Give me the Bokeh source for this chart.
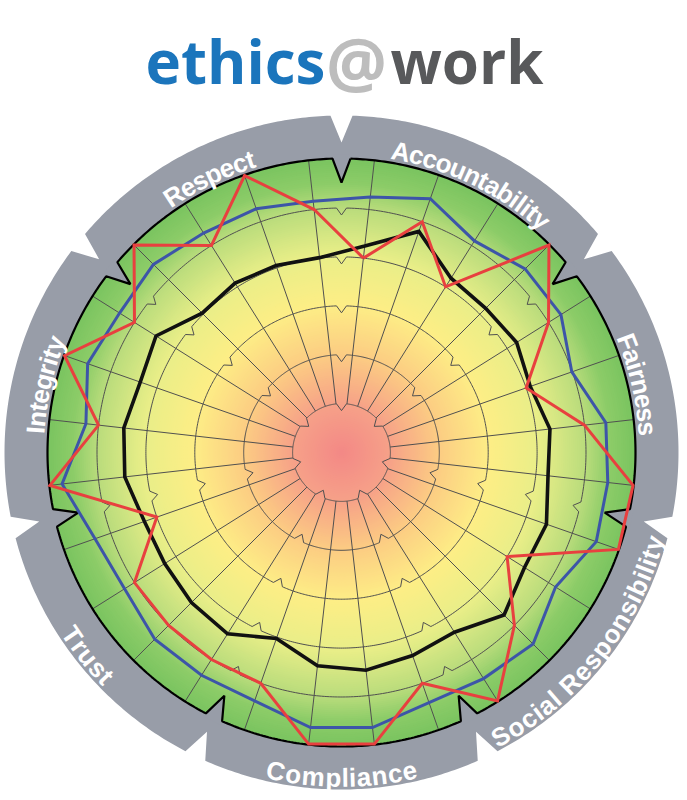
import numpy as np
from bokeh.plotting import figure
from bokeh.models import Range1d
from bokeh.embed import file_html
from bokeh.resources import INLINE
from bokeh.core.properties import value

# ---------------- data ----------------
title_parts = ["ethics", "@", "work"]
categories = ["Accountability", "Fairness", "Social Responsibility",
              "Compliance", "Trust", "Integrity", "Respect"]
# four spokes per category, clockwise from the top (levels 0..6)
red_scores = [4, 5, 4, 6,   5, 4, 5, 6,   6, 4, 5, 6,   5, 6, 6, 5,
              5, 5, 5, 4,   6, 5, 6, 5,   6, 5, 6, 5]
blue_scores = [5.26, 5.50, 5.11, 5.31,   5.30, 4.99, 5.44, 5.48,
               5.52, 5.17, 5.54, 5.46,   5.42, 5.66, 5.66, 5.38,
               5.38, 5.40, 5.24, 5.34,   5.75, 5.26, 5.50, 5.36,
               5.44, 5.30, 5.28, 5.17]
black_scores = [4.25, 4.79, 4.21, 4.17,   4.23, 4.09, 4.29, 4.25,
                4.44, 4.42, 4.70, 4.34,   4.40, 4.48, 4.39, 4.03,
                4.38, 4.34, 4.27, 4.27,   4.46, 4.48, 4.36, 4.48,
                4.03, 4.09, 4.05, 4.01]
ring_levels = [1, 2, 3, 4, 5]
max_level = 6

# ---------------- geometry ----------------
UNIT = 48.9
N_CAT = len(categories)
PER = len(red_scores) // N_CAT
N_SPOKE = len(red_scores)
seg = 2 * np.pi / N_CAT
boundaries = np.pi / 2 - np.arange(N_CAT) * seg
spoke_ang = np.pi / 2 - (np.arange(N_SPOKE) + 0.5) * seg / PER
R_EDGE = max_level * UNIT + 0.6
R_OUT = 337

p = figure(width=679, height=792, x_range=Range1d(-341, 338),
           y_range=Range1d(-340, 452), output_backend="svg",
           toolbar_location=None, min_border=0)
p.axis.visible = False
p.grid.visible = False
p.outline_line_color = None
p.background_fill_color = "white"
p.border_fill_color = "white"


def notched(r, depth, halfw, npts=80):
    xs, ys = [], []
    d = halfw / r
    for k in range(N_CAT):
        t = np.linspace(boundaries[k] - d, boundaries[k] - seg + d, npts)
        xs += list(r * np.cos(t))
        ys += list(r * np.sin(t))
        b = boundaries[k] - seg
        xs.append((r - depth) * np.cos(b))
        ys.append((r - depth) * np.sin(b))
    return xs, ys


# gray outer ring
gx, gy = notched(R_OUT, 27, 11)
p.patch(gx, gy, fill_color="#989da8", line_color=None)

# radial gradient disk
stops_r = [0, 48, 100, 150, 200, 245, 270, 300]
stops_c = [(243, 136, 134), (246, 160, 136), (252, 205, 131), (253, 238, 134),
           (232, 238, 136), (186, 220, 124), (140, 204, 104), (118, 194, 94)]
radii = np.arange(R_EDGE, 0, -2.0)
cols = []
for r in radii:
    c = [int(round(np.interp(r, stops_r, [s[i] for s in stops_c]))) for i in range(3)]
    cols.append("#%02x%02x%02x" % tuple(c))
p.circle(x=np.zeros(len(radii)), y=np.zeros(len(radii)), radius=radii,
         fill_color=cols, line_color=None)

# gray notches cutting into the disk
for b in boundaries:
    d = 10 / 298
    tx = [298 * np.cos(b + d), 270 * np.cos(b), 298 * np.cos(b - d)]
    ty = [298 * np.sin(b + d), 270 * np.sin(b), 298 * np.sin(b - d)]
    p.patch(tx, ty, fill_color="#989da8", line_color=None)

# grid rings with small notches
rxs, rys = [], []
for L in ring_levels:
    xs, ys = notched(L * UNIT, 7, 5)
    rxs.append(xs + [xs[0]])
    rys.append(ys + [ys[0]])
p.multi_line(rxs, rys, line_color="#505050", line_width=1)

# spokes
r0, r1 = ring_levels[0] * UNIT, R_EDGE
p.segment(x0=r0 * np.cos(spoke_ang), y0=r0 * np.sin(spoke_ang),
          x1=r1 * np.cos(spoke_ang), y1=r1 * np.sin(spoke_ang),
          line_color="#505050", line_width=1)

# disk outline
ex, ey = notched(R_EDGE, 24, 9)
p.line(ex + [ex[0]], ey + [ey[0]], line_color="black", line_width=2.2)

# data lines
for scores, col, w in [(black_scores, "#111111", 3.6),
                       (blue_scores, "#3d55a8", 3),
                       (red_scores, "#e8403f", 3)]:
    v = np.array(scores, dtype=float) * UNIT
    xs = list(v * np.cos(spoke_ang))
    ys = list(v * np.sin(spoke_ang))
    p.line(xs + [xs[0]], ys + [ys[0]], line_color=col, line_width=w,
           line_join="miter")

# curved category labels
W = {' ': 278, 'A': 722, 'C': 722, 'F': 611, 'I': 278, 'R': 722, 'S': 667,
     'T': 611, 'a': 556, 'b': 611, 'c': 556, 'e': 556, 'g': 611, 'i': 278,
     'l': 278, 'm': 889, 'n': 611, 'o': 611, 'p': 611, 'r': 389, 's': 556,
     't': 333, 'u': 611, 'y': 556}
FS = 26
R_MID = 316
cap = 0.716 * FS
lx, ly, lt, la = [], [], [], []
for k, name in enumerate(categories):
    phi_c = boundaries[k] - seg / 2
    widths = [W.get(ch, 556) / 1000 * FS for ch in name]
    total = sum(widths)
    outward = np.sin(phi_c) > 0
    cum = 0.0
    for ch, w in zip(name, widths):
        off = (total / 2 - (cum + w / 2)) / R_MID
        cum += w
        if outward:
            phi = phi_c + off
            rb = R_MID - cap / 2
            ang = phi - np.pi / 2
        else:
            phi = phi_c - off
            rb = R_MID + cap / 2
            ang = phi + np.pi / 2
        if ch == ' ':
            continue
        lx.append(rb * np.cos(phi))
        ly.append(rb * np.sin(phi))
        lt.append(ch)
        la.append(ang)
p.text(x=lx, y=ly, text=lt, angle=la, text_align="center",
       text_baseline="alphabetic", text_font=value("Liberation Sans"),
       text_font_size=f"{FS}px", text_font_style="bold", text_color="white")

# title
title_x = [-196, 15, 49]
title_align = ["left", "center", "left"]
title_size = ["60px", "68px", "60px"]
title_col = ["#1b75bc", "#bdbdbd", "#58595b"]
for t, x, a, s, c in zip(title_parts, title_x, title_align, title_size, title_col):
    p.text(x=[x], y=[392], text=[t], text_align=a, text_baseline="alphabetic",
           text_font=value("Open Sans"), text_font_size=s,
           text_font_style="bold", text_color=c)

open("out.html", "w").write(file_html(p, INLINE))
